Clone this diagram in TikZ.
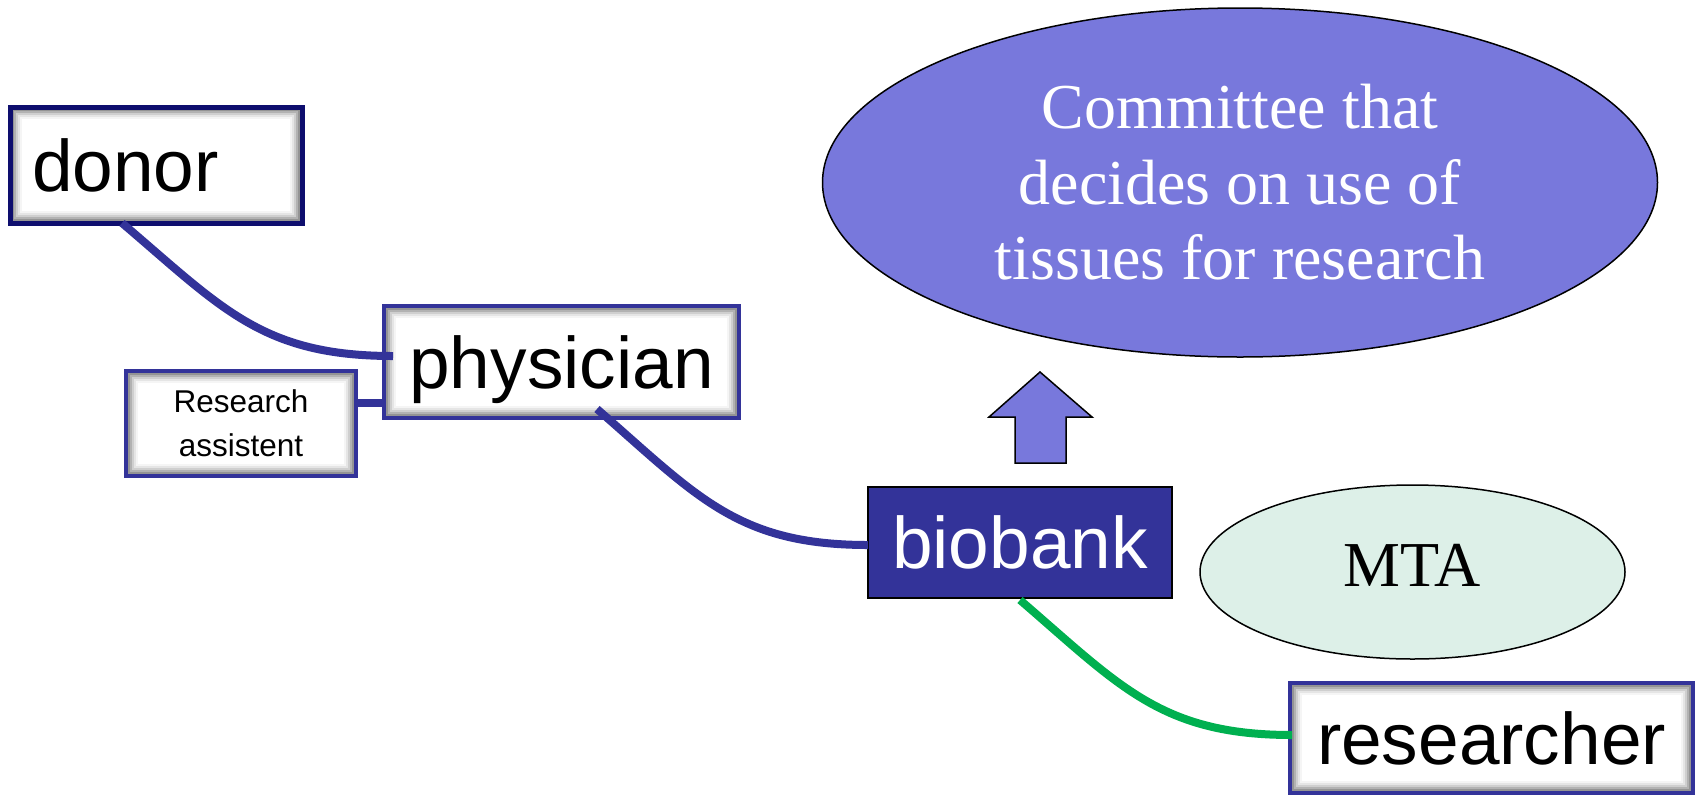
\documentclass[tikz,border=0pt]{standalone}
\usepackage{fontspec}
\setmainfont{Liberation Serif}
\setsansfont{Liberation Sans}
\usetikzlibrary{shapes.geometric}

\definecolor{linkblue}{RGB}{51,51,153}
\definecolor{navyedge}{RGB}{14,14,110}
\definecolor{bankfill}{RGB}{51,51,153}
\definecolor{committeefill}{RGB}{120,120,220}
\definecolor{mtafill}{RGB}{221,240,232}
\definecolor{greenlink}{RGB}{0,176,80}

\tikzset{
  innershade/.style={path picture={
    \foreach \d/\o in {3/0.42,5/0.3,7/0.19,9/0.1,11/0.04}{
      \draw[black,opacity=\o,line width=2pt]
        ([xshift=\d pt,yshift=-\d pt]path picture bounding box.north west)
        rectangle ([xshift=-\d pt,yshift=\d pt]path picture bounding box.south east);
    }}},
  box/.style={rectangle, draw=linkblue, line width=4pt, fill=white,
    inner sep=0pt, outer sep=0pt, innershade},
  bigtext/.style={font=\sffamily\fontsize{73}{80}\selectfont,
    text height=52pt, text depth=0pt},
  link/.style={draw=linkblue, line width=8pt},
  greenline/.style={link, draw=greenlink},
  bubble/.style={ellipse, draw=black, line width=1.5pt, inner sep=0pt,
    align=center, font=\rmfamily\fontsize{64}{75.5}\selectfont},
}

\begin{document}
\begin{tikzpicture}[x=1pt,y=-1pt]
\useasboundingbox (0,0) rectangle (1697,796);

% people and places
\node[box, bigtext, draw=navyedge, line width=5pt, minimum width=292pt,
      minimum height=116pt, text width=248pt, align=left]
      (donor) at (156,165) {donor};
\node[box, bigtext, minimum width=355pt, minimum height=112pt]
      (physician) at (561.5,362) {physician};
\node[box, minimum width=230pt, minimum height=105pt, align=center,
      font=\sffamily\fontsize{31.5}{44}\selectfont]
      (ra) at (241,423.5) {Research\\assistent};
\node[rectangle, bigtext, draw=black, line width=2pt, fill=bankfill,
      text=white, inner sep=0pt, outer sep=0pt,
      minimum width=304pt, minimum height=111pt]
      (biobank) at (1020,542.5) {biobank};
\node[box, bigtext, minimum width=403pt, minimum height=110pt]
      (researcher) at (1491.5,738) {researcher};

% committee and agreement
\node[bubble, fill=committeefill, text=white,
      minimum width=835pt, minimum height=349pt]
      (committee) at (1240,182.5)
      {Committee that\\decides on use of\\tissues for research};
\node[bubble, fill=mtafill, minimum width=425pt, minimum height=174pt,
      text height=42pt, text depth=14pt]
      (mta) at (1412.5,572) {MTA};

% upward block arrow
\draw[black, line width=1.5pt, fill=committeefill]
  (1040,372) -- (1092,417) -- (1066,417) -- (1066,463)
  -- (1015,463) -- (1015,417) -- (989,417) -- cycle;

% connectors
\draw[link] ([xshift=112pt]donor.south west)
  .. controls +(100,85) and +(-131,0) ..
  ([xshift=9pt,yshift=6pt]physician.west);
\coordinate (rajoin) at ([yshift=20.5pt]ra.east);
\draw[link] (rajoin) -- (rajoin -| physician.west);
\draw[link] ([xshift=213pt,yshift=9pt]physician.south west)
  .. controls +(100,87) and +(-131,0) ..
  ([yshift=-2.5pt]biobank.west);
\draw[greenline] ([yshift=-2pt]biobank.south)
  .. controls +(100,86) and +(-131,0) ..
  ([xshift=2pt,yshift=3pt]researcher.west);
\end{tikzpicture}
\end{document}
